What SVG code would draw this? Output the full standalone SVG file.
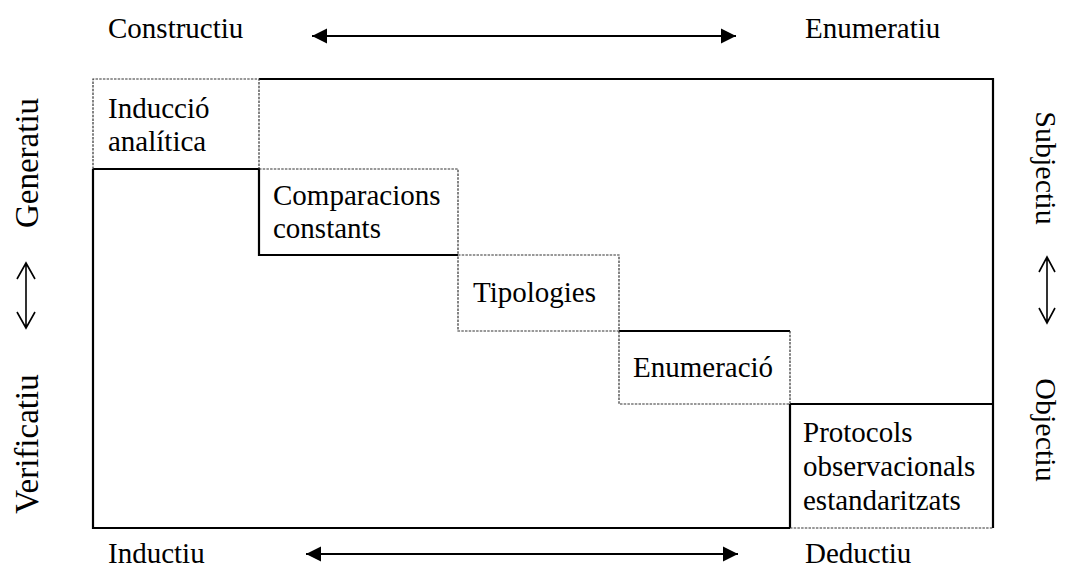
<svg xmlns="http://www.w3.org/2000/svg" width="1065" height="574" viewBox="0 0 1065 574">
<defs>
<style>
text{font-family:"Liberation Serif","Times New Roman",serif;font-size:29px;fill:#000}
.vl{font-size:33px}
.vr{font-size:30px}
.solid{fill:none;stroke:#000;stroke-width:2.2}
.dot{fill:none;stroke:#333;stroke-width:1.2;stroke-dasharray:2.5,1.2}
.conn{fill:none;stroke:#000;stroke-width:2}
.thin{fill:none;stroke:#000;stroke-width:1.6}
</style>
<marker id="tri" viewBox="0 0 10 10" refX="10" refY="5" markerWidth="7.5" markerHeight="8" markerUnits="strokeWidth" orient="auto-start-reverse">
<path d="M0,0 L10,5 L0,10 z" fill="#000"/>
</marker>
</defs>
<rect width="1065" height="574" fill="#fff"/>
<g id="frame">
<path class="solid" d="M259,79 H993 V528 M93,169 V528 H790 M93,169 H259 V255 H458 M619,331 H790 M790,404 H993 M790,404 V528"/>
</g>
<g id="node-induccio">
<path class="dot" d="M93,169 V79 H259 V169"/>
<text x="108" y="118">Inducció</text>
<text x="108" y="151">analítica</text>
</g>
<g id="node-comparacions">
<path class="dot" d="M259,169 H458 V255"/>
<text x="273" y="205">Comparacions</text>
<text x="273" y="238">constants</text>
</g>
<g id="node-tipologies">
<rect class="dot" x="458" y="255" width="161" height="76"/>
<text x="473" y="302">Tipologies</text>
</g>
<g id="node-enumeracio">
<path class="dot" d="M619,331 V404 H790 V331"/>
<text x="633" y="377">Enumeració</text>
</g>
<g id="node-protocols">
<path class="dot" d="M790,528 H993"/>
<text x="803" y="442">Protocols</text>
<text x="803" y="476">observacionals</text>
<text x="803" y="510">estandaritzats</text>
</g>
<g id="labels">
<text x="108" y="38">Constructiu</text>
<text x="805" y="38">Enumeratiu</text>
<text x="108" y="563">Inductiu</text>
<text x="805" y="563">Deductiu</text>
<text class="vl" transform="translate(38,163) rotate(-90)" text-anchor="middle">Generatiu</text>
<text class="vl" transform="translate(38,444) rotate(-90)" text-anchor="middle">Verificatiu</text>
<text class="vr" transform="translate(1036,168) rotate(90)" text-anchor="middle">Subjectiu</text>
<text class="vr" transform="translate(1036,430) rotate(90)" text-anchor="middle">Objectiu</text>
</g>
<g id="connectors">
<line class="conn" x1="312" y1="36" x2="736" y2="36" marker-start="url(#tri)" marker-end="url(#tri)"/>
<line class="conn" x1="306" y1="554" x2="738" y2="554" marker-start="url(#tri)" marker-end="url(#tri)"/>
<path class="thin" d="M26,263 V328 M17,279 L26,263 L35,279 M17,312 L26,328 L35,312"/>
<path class="thin" d="M1047,257 V323 M1039,272 L1047,257 L1055,272 M1039,308 L1047,323 L1055,308"/>
</g>
</svg>
